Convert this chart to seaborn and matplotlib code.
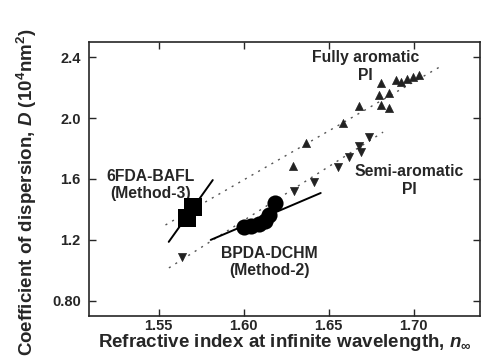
import matplotlib
matplotlib.use("Agg")
import matplotlib.pyplot as plt
import seaborn as sns

# ---- data ----
full_x = [1.6288, 1.6364, 1.6582, 1.6676, 1.6805, 1.6794, 1.6852, 1.6805, 1.6852,
          1.6894, 1.6923, 1.6994, 1.7029, 1.6960]
full_y = [1.685, 1.836, 1.967, 2.079, 2.229, 2.151, 2.164, 2.085, 2.066,
          2.249, 2.236, 2.269, 2.282, 2.255]
semi_x = [1.5635, 1.6294, 1.6411, 1.6553, 1.6617, 1.6688, 1.6676, 1.6735]
semi_y = [1.089, 1.521, 1.580, 1.679, 1.744, 1.777, 1.816, 1.875]
bafl_x = [1.5665, 1.5700]
bafl_y = [1.347, 1.418]
bpda_x = [1.6000, 1.6041, 1.6088, 1.6124, 1.6147, 1.6182]
bpda_y = [1.285, 1.292, 1.305, 1.325, 1.364, 1.443]

# trend lines (end points)
full_fit_x = [1.554, 1.717]
full_fit_y = [1.298, 2.347]
semi_fit_x = [1.556, 1.682]
semi_fit_y = [1.016, 1.908]
bafl_fit_x = [1.5559, 1.5818]
bafl_fit_y = [1.187, 1.593]
bpda_fit_x = [1.5806, 1.6453]
bpda_fit_y = [1.200, 1.508]

xticks = [1.55, 1.60, 1.65, 1.70]
yticks = [0.80, 1.2, 1.6, 2.0, 2.4]
yticklabels = ["0.80", "1.2", "1.6", "2.0", "2.4"]

sns.set_style("ticks")
plt.rcParams["font.family"] = ["Liberation Sans", "DejaVu Sans"]
plt.rcParams["font.weight"] = "bold"
plt.rcParams["mathtext.fontset"] = "custom"
plt.rcParams["mathtext.rm"] = "Liberation Sans:bold"
plt.rcParams["mathtext.it"] = "Liberation Sans:bold:italic"
plt.rcParams["mathtext.bf"] = "Liberation Sans:bold"

fig = plt.figure(figsize=(4.87, 3.64), dpi=100)
ax = fig.add_axes([89/487, 1 - 316/364, (480-89)/487, (316-42)/364])

# trend lines
sns.lineplot(x=full_fit_x, y=full_fit_y, ax=ax, color="#555555", lw=1.0,
             linestyle=(0, (1.5, 4)), estimator=None, sort=False)
sns.lineplot(x=semi_fit_x, y=semi_fit_y, ax=ax, color="#555555", lw=1.0,
             linestyle=(0, (1.5, 4)), estimator=None, sort=False)
sns.lineplot(x=bafl_fit_x, y=bafl_fit_y, ax=ax, color="black", lw=1.4,
             estimator=None, sort=False)
sns.lineplot(x=bpda_fit_x, y=bpda_fit_y, ax=ax, color="black", lw=1.4,
             estimator=None, sort=False)

# points
sns.scatterplot(x=full_x, y=full_y, ax=ax, marker="^", s=34, color="#222222",
                edgecolor="#222222", linewidth=0.5, zorder=3)
sns.scatterplot(x=semi_x, y=semi_y, ax=ax, marker="v", s=34, color="#222222",
                edgecolor="#222222", linewidth=0.5, zorder=3)
sns.scatterplot(x=bafl_x, y=bafl_y, ax=ax, marker="s", s=150, color="black",
                edgecolor="black", linewidth=0, zorder=4)
sns.scatterplot(x=bpda_x, y=bpda_y, ax=ax, marker="o", s=135, color="black",
                edgecolor="black", linewidth=0, zorder=4)

ax.set_xlim(1.509, 1.739)
ax.set_ylim(0.70, 2.50)
ax.set_xticks(xticks)
ax.set_xticklabels([f"{v:.2f}" for v in xticks])
ax.set_yticks(yticks)
ax.set_yticklabels(yticklabels)
ax.tick_params(direction="in", length=5, width=1, top=True, right=True,
               labelsize=10.5)
ax.tick_params(axis="x", pad=2)
ax.tick_params(axis="y", pad=6)
for lab in ax.get_xticklabels() + ax.get_yticklabels():
    lab.set_fontweight("bold")
for sp in ax.spines.values():
    sp.set_linewidth(1.2)
    sp.set_visible(True)

ax.set_xlabel(r"Refractive index at infinite wavelength, $n_\infty$",
              fontsize=13.5, fontweight="bold")
ax.set_ylabel(r"Coefficient of dispersion, $D$ (10$^4$nm$^2$)",
              fontsize=13.5, fontweight="bold")
ax.xaxis.set_label_coords(0.5, -0.058)
ax.yaxis.set_label_coords(-0.128, 0.45)

tkw = dict(fontsize=11.3, fontweight="bold", ha="center", va="center",
           linespacing=1.2)
ax.text(1.6717, 2.338, "Fully aromatic\nPI", **tkw)
ax.text(1.6976, 1.59, "Semi-aromatic\nPI", **tkw)
ax.text(1.5453, 1.56, "6FDA-BAFL\n(Method-3)", **tkw)
ax.text(1.6153, 1.055, "BPDA-DCHM\n(Method-2)", **tkw)

fig.savefig("out.png", dpi=100)
